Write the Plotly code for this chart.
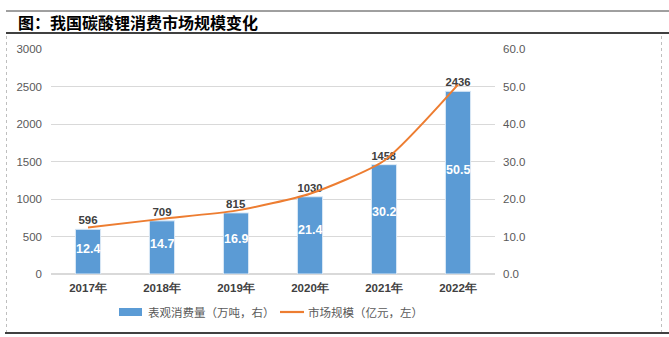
import plotly.graph_objects as go

years = ["2017年", "2018年", "2019年", "2020年", "2021年", "2022年"]
consumption = [596, 709, 815, 1030, 1458, 2436]          # 表观消费量（万吨）
market_size = [12.4, 14.7, 16.9, 21.4, 30.2, 50.5]        # 市场规模（亿元）
left_ticks = [0, 500, 1000, 1500, 2000, 2500, 3000]
right_ticks = [0, 10, 20, 30, 40, 50, 60]

title_text = "图：我国碳酸锂消费市场规模变化"
bar_name = "表观消费量（万吨，右）"
line_name = "市场规模（亿元，左）"

W, H = 669, 337
BAR_C = "#5B9BD5"
LINE_C = "#ED7D31"
CJK = "Noto Sans CJK SC"
NUM = "Liberation Sans"


def px(x):
    return x / W


def py(y):
    return 1 - y / H


fig = go.Figure()
fig.add_trace(go.Bar(
    x=years, y=consumption, name=bar_name,
    marker=dict(color=BAR_C, line=dict(color="#DCE9F6", width=1)),
    width=0.34,
    text=[str(v) for v in consumption], textposition="outside",
    textfont=dict(family=NUM, size=11.5, color="#404040", weight="bold"),
    cliponaxis=False, showlegend=False,
))
fig.add_trace(go.Scatter(
    x=years, y=market_size, name=line_name, yaxis="y2", mode="lines",
    line=dict(color=LINE_C, width=2, shape="spline", smoothing=0.6),
    showlegend=False,
))

# market size labels inside the bars
for yr, c, m in zip(years, consumption, market_size):
    fig.add_annotation(x=yr, y=c * 0.57, xref="x", yref="y", text=f"{m:.1f}",
                       showarrow=False,
                       font=dict(family=NUM, size=12.5, color="white", weight="bold"))

fig.update_layout(
    width=W, height=H, autosize=False,
    margin=dict(l=0, r=0, t=0, b=0, pad=0, autoexpand=False),
    paper_bgcolor="white", plot_bgcolor="white",
    bargap=0.66,
    xaxis=dict(domain=[px(51), px(495)], showgrid=False, showline=False,
               ticks="", ticklabelstandoff=5, automargin=False,
               tickfont=dict(family=NUM, size=11.5, color="#404040", weight="bold")),
    yaxis=dict(domain=[py(274), py(49)], range=[0, 3000], tickvals=left_ticks,
               showgrid=True, gridcolor="#D9D9D9", gridwidth=1, zeroline=True,
               zerolinecolor="#D9D9D9", showline=False, ticks="",
               ticklabelstandoff=8, automargin=False,
               tickfont=dict(family=NUM, size=11.5, color="#595959")),
    yaxis2=dict(overlaying="y", side="right", range=[0, 60], tickvals=right_ticks,
                tickformat=".1f", showgrid=False, zeroline=False, showline=False,
                ticks="", ticklabelstandoff=7, automargin=False,
                tickfont=dict(family=NUM, size=11.5, color="#595959")),
    showlegend=False,
)

shapes = [
    # top thin line
    dict(type="line", xref="paper", yref="paper", x0=px(6), x1=1, y0=py(11), y1=py(11),
         line=dict(color="#404040", width=1)),
    # line under the title
    dict(type="line", xref="paper", yref="paper", x0=px(6), x1=1, y0=py(33), y1=py(33),
         line=dict(color="#000000", width=1.5)),
    # bottom line
    dict(type="line", xref="paper", yref="paper", x0=px(5), x1=1, y0=py(333), y1=py(333),
         line=dict(color="#000000", width=1.5)),
    # dotted chart border
    dict(type="line", xref="paper", yref="paper", x0=px(6.5), x1=px(6.5), y0=py(36), y1=py(332),
         line=dict(color="#BFBFBF", width=1, dash="dot")),
    dict(type="line", xref="paper", yref="paper", x0=px(661.5), x1=px(661.5), y0=py(36), y1=py(332),
         line=dict(color="#BFBFBF", width=1, dash="dot")),
    # legend swatches
    dict(type="rect", xref="paper", yref="paper", x0=px(119), x1=px(142), y0=py(316), y1=py(308),
         fillcolor=BAR_C, line=dict(width=0)),
    dict(type="line", xref="paper", yref="paper", x0=px(280), x1=px(304), y0=py(312), y1=py(312),
         line=dict(color=LINE_C, width=2.2)),
]
fig.update_layout(shapes=shapes)

fig.add_annotation(x=px(16), y=py(22), xref="paper", yref="paper", text=title_text,
                   xanchor="left", yanchor="middle", showarrow=False,
                   font=dict(family=CJK, size=16, color="#000000", weight="bold"))
fig.add_annotation(x=px(146), y=py(312), xref="paper", yref="paper", text=bar_name,
                   xanchor="left", yanchor="middle", showarrow=False,
                   font=dict(family=CJK, size=11.5, color="#595959"))
fig.add_annotation(x=px(306), y=py(312), xref="paper", yref="paper", text=line_name,
                   xanchor="left", yanchor="middle", showarrow=False,
                   font=dict(family=CJK, size=11.5, color="#595959"))

fig.write_html("out.html")
